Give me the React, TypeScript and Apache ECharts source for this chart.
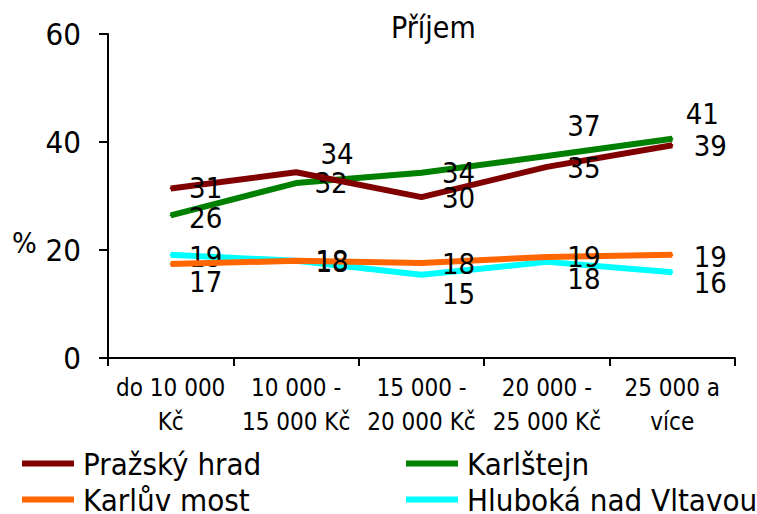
import React, { useEffect, useRef } from "react";
import * as echarts from "echarts";

const categories = ["do 10 000\nKč", "10 000 -\n15 000 Kč", "15 000 -\n20 000 Kč", "20 000 -\n25 000 Kč", "25 000 a\nvíce"];
const seriesNames = ["Pražský hrad", "Karlštejn", "Karlův most", "Hluboká nad Vltavou"];
const prazskyHrad = [31.4, 34.4, 29.8, 35.4, 39.4];
const karlstejn = [26.4, 32.4, 34.3, 37.4, 40.6];
const karluvMost = [17.4, 18.0, 17.6, 18.7, 19.1];
const hluboka = [19.1, 18.0, 15.4, 17.8, 15.9];
const yTicks = [0, 20, 40, 60];

// label layout (offsets of label centre from point), not data
const labelOffsets: number[][][] = [
  [[35, 0], [41, -18], [37, 1], [37, 1], [38, 1]],
  [[35, 3], [35, 0], [37, 0], [37, -30], [30, -25]],
  [[35, 18], [36, 1], [37, 1], [37, 0], [38, 2]],
  [[35, 2], [36, 0], [37, 19], [37, 17], [38, 11]],
];
const colors = ["#800000", "#008000", "#FF6600", "#00FFFF"];
const FONT = "'DejaVu Sans Condensed', 'DejaVu Sans', sans-serif";

export default function App() {
  const ref = useRef<HTMLDivElement>(null);
  useEffect(() => {
    if (!ref.current) return;
    const chart = echarts.init(ref.current, null, { renderer: "svg" });
    const allData = [prazskyHrad, karlstejn, karluvMost, hluboka];
    const legendBase = {
      orient: "vertical",
      top: 448,
      height: 120,
      padding: 0,
      itemWidth: 52,
      itemHeight: 6,
      itemGap: 5,
      icon: "rect",
      textStyle: { fontSize: 31, lineHeight: 30, color: "#000", fontFamily: FONT, padding: [0, 0, 0, 4] },
    };
    chart.setOption({
      animation: false,
      textStyle: { fontFamily: FONT },
      grid: { left: 108, right: 22, top: 34, bottom: 156 },
      graphic: [
        {
          type: "text",
          left: 391,
          top: 12,
          style: { text: "Příjem", fontSize: 30, fontFamily: FONT, fill: "#000" },
        },
        {
          type: "text",
          left: 12,
          top: 228,
          style: { text: "%", fontSize: 29, fontFamily: FONT, fill: "#000" },
        },
      ],
      legend: [
        { ...legendBase, data: [seriesNames[0], seriesNames[2]], left: 22 },
        { ...legendBase, data: [seriesNames[1], seriesNames[3]], left: 406 },
      ],
      xAxis: {
        type: "category",
        data: categories,
        boundaryGap: true,
        axisLine: { lineStyle: { color: "#000", width: 2 } },
        axisTick: { show: true, length: 8, lineStyle: { color: "#000", width: 2 }, interval: 0 },
        axisLabel: { interval: 0, fontSize: 24, lineHeight: 34, margin: 13, color: "#000", fontFamily: FONT },
      },
      yAxis: {
        type: "value",
        min: yTicks[0],
        max: yTicks[yTicks.length - 1],
        interval: 20,
        axisLine: { show: true, lineStyle: { color: "#000", width: 2 } },
        axisTick: { show: true, length: 9, lineStyle: { color: "#000", width: 2 } },
        splitLine: { show: false },
        axisLabel: { fontSize: 31, margin: 27, color: "#000", fontFamily: FONT },
      },
      series: allData.map((d, si) => ({
        name: seriesNames[si],
        type: "line",
        data: d.map((v, i) => ({
          value: v,
          label: { offset: labelOffsets[si][i] },
        })),
        symbol: "circle",
        symbolSize: 2,
        showSymbol: true,
        color: colors[si],
        itemStyle: { color: colors[si] },
        lineStyle: { color: colors[si], width: 6 },
        label: {
          show: true,
          position: "inside",
          fontSize: 29,
          color: "#000",
          fontFamily: FONT,
          formatter: (p: any) => String(Math.round(p.value)),
        },
        z: 10 - si,
      })),
    });
    return () => chart.dispose();
  }, []);
  return <div ref={ref} style={{ width: 757, height: 514, position: "absolute", left: 0, top: 0 }} />;
}
